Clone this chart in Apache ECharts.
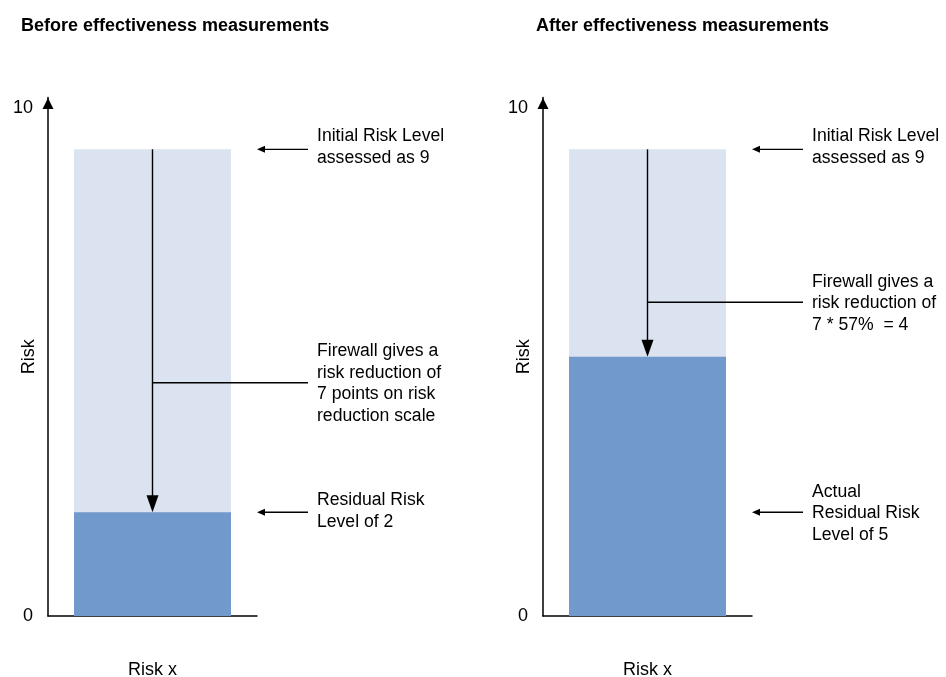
<!DOCTYPE html>
<html>
<head>
<meta charset="utf-8">
<script src="https://cdn.jsdelivr.net/npm/echarts@6/dist/echarts.min.js"></script>
<style>
html,body{margin:0;padding:0;background:#fff;}
#c{width:946px;height:677px;}
</style>
</head>
<body>
<div id="c"></div>
<script>
// ---- data ----
const categories = ['Risk x'];
const panelTitles = ['Before effectiveness measurements', 'After effectiveness measurements'];
const initialRisk = [9, 9];
const residualRisk = [2, 5];
const yTicks = [0, 10];
const notesBefore = [
  'Initial Risk Level\nassessed as 9',
  'Firewall gives a\nrisk reduction of\n7 points on risk\nreduction scale',
  'Residual Risk\nLevel of 2'
];
const notesAfter = [
  'Initial Risk Level\nassessed as 9',
  'Firewall gives a\nrisk reduction of\n7 * 57%  = 4',
  'Actual\nResidual Risk\nLevel of 5'
];
// annotation anchor levels (in risk units) for [initial note, reduction note, residual note]
const noteLevels = [[9, 4.5, 2], [9, 6.05, 2]];

// ---- layout ----
const FONT = 'Liberation Sans, Arial, sans-serif';
const LIGHT = '#DAE3EF';
const DARK = '#7199CB';
const gridLefts = [48, 543];
const gridW = 209, gridTop = 97.5, gridBottom = 677 - 616;

const chart = echarts.init(document.getElementById('c'), null, {renderer: 'canvas'});

const grids = [], xAxes = [], yAxes = [], series = [], titles = [];
for (let i = 0; i < 2; i++) {
  grids.push({left: gridLefts[i], width: gridW, top: gridTop, bottom: gridBottom, containLabel: false, outerBoundsMode: 'none'});
  titles.push({text: panelTitles[i], left: [21, 536][i], top: 17, padding: 0,
    textStyle: {fontFamily: FONT, fontSize: 18, fontWeight: 'bold', color: '#000'}});
  xAxes.push({
    type: 'category', gridIndex: i, data: categories,
    axisLine: {lineStyle: {color: '#000', width: 1.5}},
    axisTick: {alignWithLabel: true, length: 17, lineStyle: {color: '#000', width: 1.5}},
    axisLabel: {fontFamily: FONT, fontSize: 18, color: '#000', margin: 45}
  });
  yAxes.push({
    type: 'value', gridIndex: i, min: yTicks[0], max: yTicks[1], interval: 10,
    name: 'Risk', nameLocation: 'middle', nameGap: 10, nameRotate: 90, nameMoveOverlap: false,
    nameTextStyle: {fontFamily: FONT, fontSize: 18, color: '#000'},
    splitLine: {show: false},
    axisTick: {show: false},
    axisLine: {show: true, lineStyle: {color: '#000', width: 1.5}, symbol: ['none', 'triangle'], symbolSize: [11, 11], symbolOffset: [0, -6]},
    axisLabel: {fontFamily: FONT, fontSize: 18, color: '#000', margin: 15,
      formatter: v => v === 10 ? '{t|10}' : '{n|' + v + '}',
      rich: {t: {fontFamily: FONT, fontSize: 18, color: '#000', padding: [21, 0, 0, 0]}, n: {fontFamily: FONT, fontSize: 18, color: '#000'}}}
  });
  series.push({
    type: 'bar', xAxisIndex: i, yAxisIndex: i, data: [initialRisk[i]], barWidth: 157,
    itemStyle: {color: LIGHT}, silent: true, z: 2
  });
  series.push({
    type: 'bar', xAxisIndex: i, yAxisIndex: i, data: [residualRisk[i]], barWidth: 157, barGap: '-100%',
    itemStyle: {color: DARK}, silent: true, z: 3
  });
}

chart.setOption({
  animation: false,
  title: titles,
  grid: grids, xAxis: xAxes, yAxis: yAxes, series: series
});

// ---- annotations positioned through the chart's own scales ----
const g = [];
const lineStyle = {stroke: '#000', lineWidth: 1.4};
function hline(x1, x2, y) { g.push({type: 'line', z: 10, shape: {x1, y1: y, x2, y2: y}, style: lineStyle}); }
function leftArrow(x1, x2, y) {
  hline(x1 + 6, x2, y);
  g.push({type: 'polygon', z: 10, shape: {points: [[x1, y], [x1 + 8, y - 3.5], [x1 + 8, y + 3.5]]}, style: {fill: '#000'}});
}
function note(x, y, text) {
  g.push({type: 'text', z: 10, style: {text, x, y, fill: '#000', font: '17.6px ' + FONT, verticalAlign: 'middle', align: 'left', lineHeight: 21.5}});
}
[notesBefore, notesAfter].forEach((notes, i) => {
  const top = chart.convertToPixel({gridIndex: i}, [categories[0], initialRisk[i]]);
  const res = chart.convertToPixel({gridIndex: i}, [categories[0], residualRisk[i]]);
  const cx = top[0];
  const axisEnd = gridLefts[i] + gridW;
  const textX = axisEnd + 60;
  const lv = noteLevels[i].map(v => chart.convertToPixel({gridIndex: i}, [categories[0], v])[1]);
  // vertical reduction arrow
  g.push({type: 'line', z: 10, shape: {x1: cx, y1: top[1], x2: cx, y2: res[1] - 14}, style: lineStyle});
  g.push({type: 'polygon', z: 10, shape: {points: [[cx, res[1]], [cx - 6, res[1] - 17], [cx + 6, res[1] - 17]]}, style: {fill: '#000'}});
  // initial
  leftArrow(axisEnd, axisEnd + 51, lv[0]);
  note(textX, lv[0] - 2, notes[0]);
  // reduction connector
  hline(cx, axisEnd + 51, lv[1]);
  note(textX, lv[1] + 1, notes[1]);
  // residual
  leftArrow(axisEnd, axisEnd + 51, lv[2]);
  note(textX, lv[2] + (i === 0 ? -1 : 1), notes[2]);
});
chart.setOption({graphic: g});
</script>
</body>
</html>
